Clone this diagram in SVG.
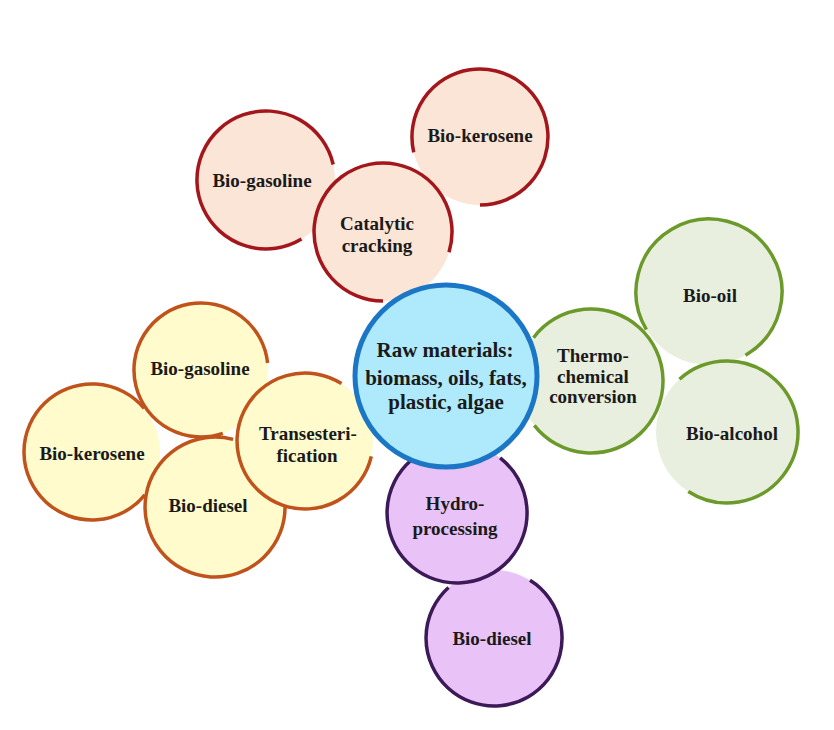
<svg xmlns="http://www.w3.org/2000/svg" width="834" height="730" viewBox="0 0 834 730">
<style>
text{font-family:"Liberation Serif","Times New Roman",serif;font-weight:bold;font-size:19px;fill:#1a1a1a;text-anchor:middle}
.arc{fill:none;stroke-width:3.5;stroke-linecap:butt}
.red .bg{fill:#fbe5d6}.red .arc{stroke:#a3161c}
.org .bg{fill:#fffbcc}.org .arc{stroke:#c0521c}
.grn .bg{fill:#e8efdf}.grn .arc{stroke:#6b9a2b}
.pur .bg{fill:#e9c3f7}.pur .arc{stroke:#3c1a58}
.blu .bg{fill:#aeeafb;stroke:#1b77c6;stroke-width:5}
.big{font-size:21px}
</style>
<rect width="834" height="730" fill="#ffffff"/>
<g id="connectors"/>
<g id="cc-gasoline" class="red">
<circle class="bg" cx="266" cy="180" r="69"/>
<path class="arc" d="M301.5,239.1 A69,69 0 1 1 333.2,164.5"/>
<text x="262" y="187">Bio-gasoline</text>
</g>
<g id="cc-kerosene" class="red">
<circle class="bg" cx="480" cy="137" r="68"/>
<path class="arc" d="M413.7,152.3 A68,68 0 1 1 480,205"/>
<text x="480" y="142">Bio-kerosene</text>
</g>
<g id="catalytic" class="red">
<circle class="bg" cx="383" cy="232" r="69"/>
<path class="arc" d="M383,301 A69,69 0 1 1 449,252.2"/>
<text x="377" y="230">Catalytic</text>
<text x="377" y="252">cracking</text>
</g>
<g id="te-kerosene" class="org">
<circle class="bg" cx="92" cy="452" r="68"/>
<path class="arc" d="M144.8,494.8 A68,68 0 1 1 144.1,408.3"/>
<text x="92" y="460">Bio-kerosene</text>
</g>
<g id="te-gasoline" class="org">
<circle class="bg" cx="201" cy="370" r="67"/>
<path class="arc" d="M222.8,433.3 A67,67 0 1 1 267.6,363"/>
<text x="200" y="375">Bio-gasoline</text>
</g>
<g id="te-diesel" class="org">
<circle class="bg" cx="215" cy="507" r="70"/>
<path class="arc" d="M285,504.6 A70,70 0 1 1 233.1,439.4"/>
<text x="208" y="512">Bio-diesel</text>
</g>
<g id="transesterification" class="org">
<circle class="bg" cx="305" cy="441" r="68"/>
<path class="arc" d="M371.3,456.3 A68,68 0 1 1 341.5,383.6"/>
<text x="308" y="440">Transesteri-</text>
<text x="307" y="462">fication</text>
</g>
<g id="bio-oil" class="grn">
<circle class="bg" cx="709" cy="292" r="73"/>
<path class="arc" d="M646.4,329.6 A73,73 0 1 1 745.5,355.2"/>
<text x="710" y="302">Bio-oil</text>
</g>
<g id="bio-alcohol" class="grn">
<circle class="bg" cx="727" cy="432" r="71"/>
<path class="arc" d="M679.5,379.2 A71,71 0 1 1 688.3,491.5"/>
<text x="732" y="440">Bio-alcohol</text>
</g>
<g id="thermochemical" class="grn">
<circle class="bg" cx="591" cy="381" r="72"/>
<path class="arc" d="M533.5,337.7 A72,72 0 1 1 534.3,425.3"/>
<text x="593" y="362">Thermo-</text>
<text x="593" y="383">chemical</text>
<text x="593" y="403">conversion</text>
</g>
<g id="hp-diesel" class="pur">
<circle class="bg" cx="494" cy="638" r="68"/>
<path class="arc" d="M530,580.3 A68,68 0 1 1 448.5,587.5"/>
<text x="492" y="645">Bio-diesel</text>
</g>
<g id="hydroprocessing" class="pur">
<circle class="bg" cx="457" cy="513" r="70"/>
<path class="arc" d="M500.1,457.8 A70,70 0 1 1 411.1,460.2"/>
<text x="455" y="510">Hydro-</text>
<text x="455" y="535">processing</text>
</g>
<g id="raw-materials" class="blu">
<circle class="bg" cx="446" cy="376" r="91"/>
<text class="big" x="445" y="357">Raw materials:</text>
<text class="big" x="446" y="385">biomass, oils, fats,</text>
<text class="big" x="446" y="409">plastic, algae</text>
</g>
</svg>
